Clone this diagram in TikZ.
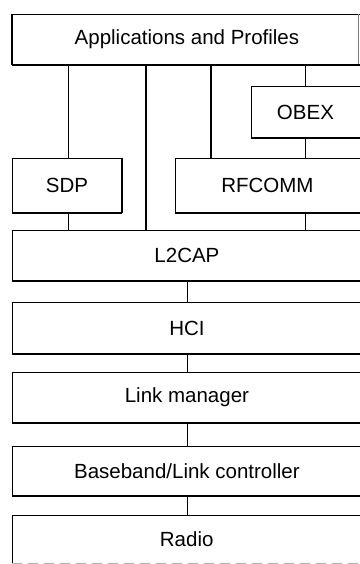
\documentclass[tikz,border=0pt]{standalone}
\usepackage{fontspec}
\setmainfont{Liberation Sans}
\begin{document}
\begin{tikzpicture}[x=1pt,y=-1pt,
  layer/.style={draw, line width=0.9pt, anchor=north west, inner sep=0pt,
    font=\fontsize{20.5}{24}\selectfont},
  link/.style={line width=1pt},
  heavylink/.style={line width=2.4pt},
  base/.style={line width=2pt}]
\useasboundingbox[fill=white] (0,0) rectangle (359,564);

% protocol layers (right edges run to the page edge)
\node[layer, minimum width=349pt, minimum height=50pt] (apps) at (12,14) {Applications and Profiles};
\node[layer, minimum width=109pt, minimum height=51pt, xshift=-1.5pt] (obex) at (252,86) {OBEX};
\node[layer, minimum width=109pt, minimum height=54pt] (sdp) at (12,158) {SDP};
\node[layer, minimum width=185pt, minimum height=54pt, xshift=-1.5pt] (rfcomm) at (176,158) {RFCOMM};
\node[layer, minimum width=349pt, minimum height=50pt] (l2cap) at (12,230) {L2CAP};
\node[layer, minimum width=349pt, minimum height=51pt] (hci) at (12,302) {HCI};
\node[layer, minimum width=349pt, minimum height=50pt] (lm) at (12,372) {Link manager};
\node[layer, minimum width=349pt, minimum height=49pt] (bb) at (12,446) {Baseband/Link controller};
\node[draw=none, anchor=north west, inner sep=0pt, minimum width=349pt, minimum height=48pt,
  font=\fontsize{20.5}{24}\selectfont] (radio) at (12,515) {Radio};
\draw[line width=0.9pt] (radio.south west) -- (radio.north west) -- (radio.north east);
\draw[line width=0.6pt, gray!60, dash pattern=on 10pt off 6pt] (radio.south west) -- (radio.south east);

% heavier lower edges
\foreach \n in {apps,obex,sdp,rfcomm,l2cap,hci,lm,bb}
  \draw[base] (\n.south west) -- (\n.south east);
\draw[line width=1.6pt] (sdp.north east) -- (sdp.south east);
\draw[line width=1.6pt] (apps.north west) -- (apps.south west);
\draw[line width=0.6pt, gray] (358,14) -- (358,64);

% connector columns
\coordinate (csdp) at (68,0);
\coordinate (cl2) at (146,0);
\coordinate (crf) at (211,0);
\coordinate (cobex) at (305,0);
\coordinate (cmid) at (187,0);

\draw[link] (apps.south -| csdp) -- (sdp.north -| csdp);
\draw[line width=1.5pt] (apps.south -| cl2) -- (l2cap.north -| cl2);
\draw[heavylink] (apps.south -| crf) -- (rfcomm.north -| crf);
\draw[link] (apps.south -| cobex) -- (obex.north -| cobex);
\draw[link] (obex.south -| cobex) -- (rfcomm.north -| cobex);
\draw[link] (sdp.south -| csdp) -- (l2cap.north -| csdp);
\draw[link] (rfcomm.south -| cobex) -- (l2cap.north -| cobex);
\draw[link] (l2cap.south -| cmid) -- (hci.north -| cmid);
\draw[link] (hci.south -| cmid) -- (lm.north -| cmid);
\draw[link] (lm.south -| cmid) -- (bb.north -| cmid);
\draw[link] (bb.south -| cmid) -- (radio.north -| cmid);
\end{tikzpicture}
\end{document}
